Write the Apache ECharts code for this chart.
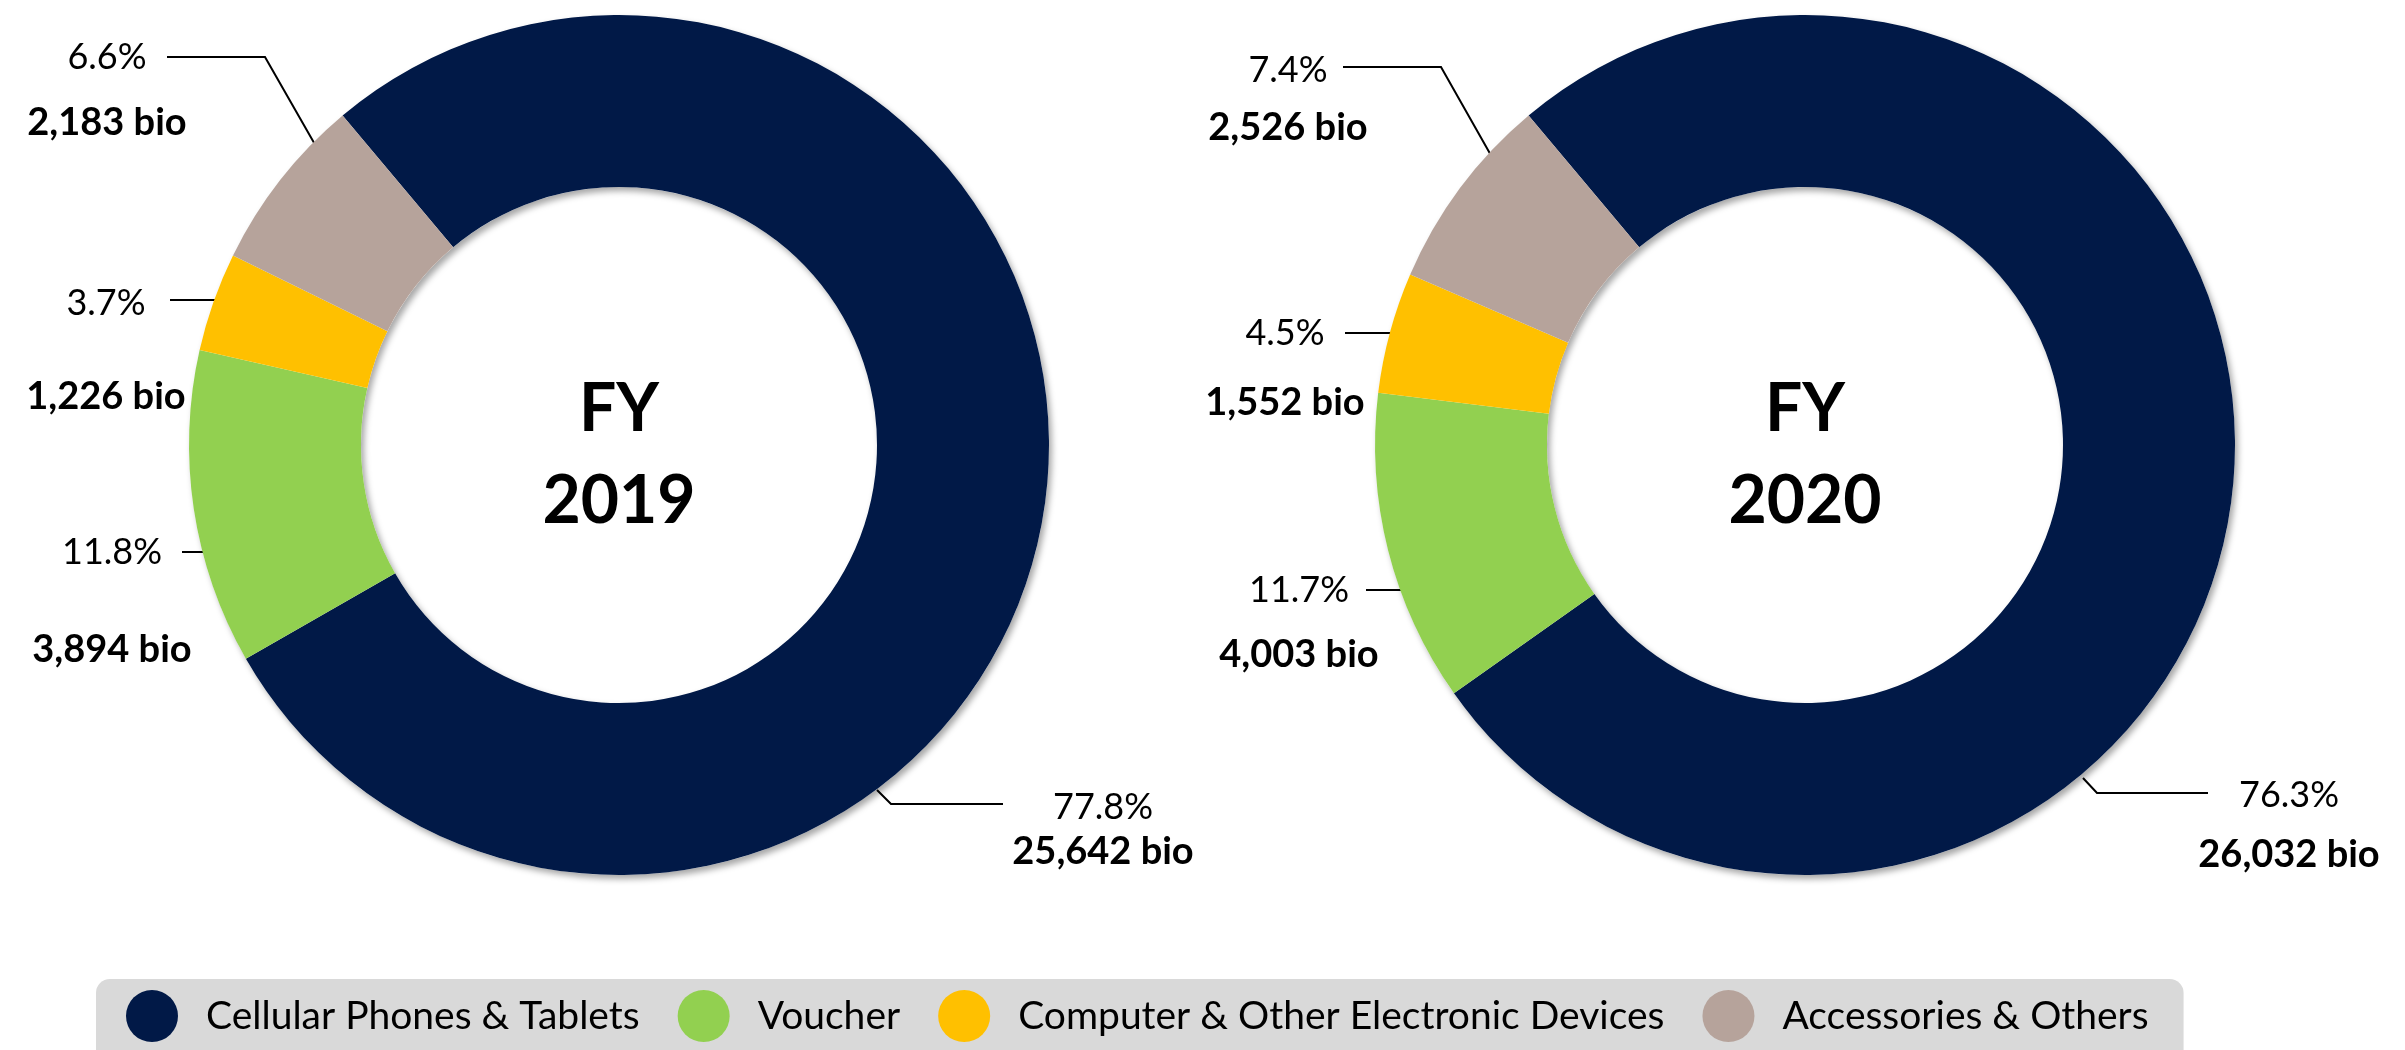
<!DOCTYPE html>
<html>
<head>
<meta charset="utf-8">
<script src="https://cdn.jsdelivr.net/npm/echarts@6/dist/echarts.min.js"></script>
<style>
  body { margin: 0; background: #fff; }
  #chart { width: 2405px; height: 1050px; }
</style>
</head>
<body>
<div id="chart"></div>
<script>
const categories = ['Cellular Phones & Tablets', 'Voucher', 'Computer & Other Electronic Devices', 'Accessories & Others']
const fy2019 = [25642, 3894, 1226, 2183]
const fy2020 = [26032, 4003, 1552, 2526]
const years = ['2019', '2020']
const colors = ['#011947', '#92d050', '#ffc000', '#b6a39b']

// layout of the two rings
const centers = [[619, 445], [1805, 445]]
const outerR = 430
const innerR = 258

// where each label sits: x = centre of the text block, py = % line, vy = value line
// line = leader line points, from label to ring
const labelSpots = [
  [
    { x: 1103, py: 807, vy: 852, line: [[1003, 804], [891, 804], [877, 790]] },
    { x: 112, py: 552, vy: 650, line: [[182, 552], [206, 552], [231, 552]] },
    { x: 106, py: 303, vy: 397, line: [[170, 300], [201, 300], [232, 300]] },
    { x: 107, py: 57, vy: 123, line: [[167, 57], [265, 57], [325, 162]] },
  ],
  [
    { x: 2289, py: 795, vy: 855, line: [[2208, 793], [2097, 793], [2083, 778]] },
    { x: 1299, py: 590, vy: 655, line: [[1366, 590], [1415, 590], [1465, 590]] },
    { x: 1285, py: 333, vy: 403, line: [[1345, 333], [1394, 333], [1443, 333]] },
    { x: 1288, py: 70, vy: 128, line: [[1343, 67], [1441, 67], [1501, 173]] },
  ],
]

const pctLH = 40
const fontFamily = 'Lato, "Open Sans", sans-serif'

const buildData = (values, spots) => {
  const total = values.reduce((a, b) => a + b, 0)
  return values.map((v, i) => {
    const gap = spots[i].vy - spots[i].py
    return {
      name: categories[i],
      value: v,
      label: {
        formatter: `{p|${((v / total) * 100).toFixed(1)}%}\n{v|${v.toLocaleString('en-US')} bio}`,
        rich: {
          p: { fontFamily, fontSize: 36, color: '#000', lineHeight: pctLH },
          v: { fontFamily, fontSize: 38, fontWeight: 'bold', color: '#000', lineHeight: gap * 2 - pctLH },
        },
      },
    }
  })
}

const makePie = (values, k) => ({
  type: 'pie',
  z: 3,
  center: centers[k],
  radius: [innerR, outerR],
  startAngle: 130,
  clockwise: true,
  avoidLabelOverlap: false,
  animation: false,
  itemStyle: { borderWidth: 0 },
  emphasis: { disabled: true },
  label: { show: true, position: 'outside' },
  labelLine: { show: true, lineStyle: { color: '#000', width: 2 } },
  labelLayout: (params) => {
    const s = labelSpots[k][params.dataIndex]
    return {
      x: s.x,
      y: s.py - pctLH / 2,
      align: 'center',
      verticalAlign: 'top',
      labelLinePoints: s.line,
    }
  },
  data: buildData(values, labelSpots[k]),
})

// soft drop shadow under each ring
const makeShadow = (k) => ({
  type: 'pie',
  z: 1,
  silent: true,
  animation: false,
  center: centers[k],
  radius: [innerR, outerR],
  label: { show: false },
  labelLine: { show: false },
  itemStyle: {
    color: '#fff',
    shadowColor: 'rgba(0, 0, 0, 0.35)',
    shadowBlur: 6,
    shadowOffsetX: 3,
    shadowOffsetY: 4,
  },
  data: [{ value: 1, name: 'shadow' + k }],
})

const myChart = echarts.init(document.getElementById('chart'))
myChart.setOption({
  animation: false,
  color: colors,
  legend: {
    data: categories,
    left: 96,
    top: 979,
    orient: 'horizontal',
    icon: 'circle',
    itemWidth: 52,
    itemHeight: 52,
    itemGap: 38,
    padding: [11, 35, 30, 30],
    backgroundColor: '#d9d9d9',
    borderRadius: 14,
    selectedMode: false,
    textStyle: { fontFamily, fontSize: 39, color: '#000', padding: [0, 0, 0, 23] },
  },
  graphic: years.map((y, k) => ({
    type: 'text',
    x: centers[k][0],
    y: centers[k][1] + 11,
    z: 10,
    style: {
      text: 'FY\n' + y,
      fontFamily,
      fontSize: 66,
      fontWeight: 'bold',
      lineHeight: 92,
      fill: '#000',
      align: 'center',
      verticalAlign: 'middle',
    },
  })),
  series: [makePie(fy2019, 0), makePie(fy2020, 1), makeShadow(0), makeShadow(1)],
})
</script>
</body>
</html>
